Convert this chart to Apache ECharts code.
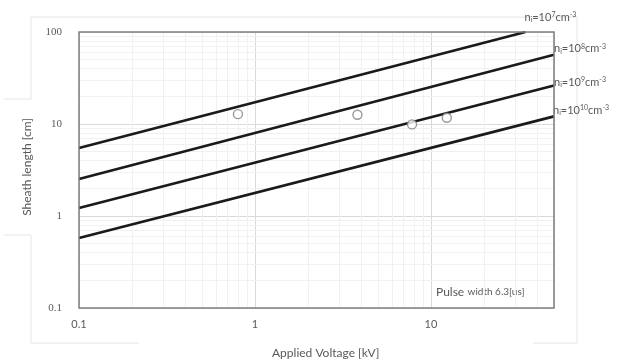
<!DOCTYPE html>
<html>
<head>
<meta charset="utf-8">
<script src="https://cdn.jsdelivr.net/npm/echarts@6/dist/echarts.min.js"></script>
<style>html,body{margin:0;padding:0;background:#fff}#c{width:621px;height:363px}</style>
</head>
<body>
<div id="c"></div>
<script>
// ---- data ----
var lineNames = ['7', '8', '9', '10'];            // n_i = 10^x cm^-3
var line7  = [[0.1, 5.5],  [34.4, 100]];
var line8  = [[0.1, 2.52], [50, 56.5]];
var line9  = [[0.1, 1.22], [50, 26.2]];
var line10 = [[0.1, 0.577],[50, 12.1]];
var measured = [[0.80, 12.8], [3.82, 12.6], [7.8, 9.9], [12.3, 11.7]];
var xMajor = [0.1, 1, 10];
var yMajor = [0.1, 1, 10, 100];
var xMinor = [0.2,0.3,0.4,0.5,0.6,0.7,0.8,0.9,2,3,4,5,6,7,8,9,20,30,40];
var yMinor = [0.2,0.3,0.4,0.5,0.6,0.7,0.8,0.9,2,3,4,5,6,7,8,9,20,30,40,50,60,70,80,90];

var txt = '#595959';
var font = 'Lato';
var rich = {
  n:  {fontSize: 11, color: txt, fontFamily: font},
  sub:{fontSize: 7, color: txt, fontFamily: font, verticalAlign: 'bottom', padding:[4,0,0,0]},
  sup:{fontSize: 7, color: txt, fontFamily: font, verticalAlign: 'top', padding:[0,0,5,0]}
};
function lab(p) { return '{n|n}{sub|i}{n|=10}{sup|' + p + '}{n|cm}{sup|-3}'; }
var offsets = [[-4,-15],[-3,-6],[-3,-3],[-4,-6]];
var lines = [line7, line8, line9, line10];

var series = lines.map(function (d, i) {
  return {
    type: 'line', data: d, symbol: 'none', silent: true, z: 4,
    lineStyle: {color: '#1a1a1a', width: 2.6},
    endLabel: {show: true, formatter: lab(lineNames[i]), rich: rich, offset: offsets[i], distance: 3}
  };
});
series.push({
  type: 'scatter', data: measured, symbol: 'circle', symbolSize: 9, z: 6,
  itemStyle: {color: '#ffffff', borderColor: '#808080', borderWidth: 1.4}
});
var ml = [];
xMinor.forEach(function (v) { ml.push({xAxis: v}); });
yMinor.forEach(function (v) { ml.push({yAxis: v}); });
series.push({
  type: 'line', data: [], silent: true, z: 0,
  markLine: {silent: true, z: 0, symbol: 'none', label: {show: false},
    lineStyle: {color: '#f1f1f1', width: 1, type: 'solid'}, data: ml, animation: false}
});

var chart = echarts.init(document.getElementById('c'), null, {renderer: 'canvas'});
chart.setOption({
  animation: false,
  grid: {left: 79, right: 67, top: 32, bottom: 55, show: true, borderColor: '#7f7f7f', borderWidth: 1.5, z: 8},
  xAxis: {
    type: 'log', logBase: 10, min: 0.1, max: 50,
    axisLine: {show: false}, axisTick: {show: false},
    splitLine: {show: true, lineStyle: {color: '#d9d9d9', width: 1}},
    axisLabel: {color: txt, fontFamily: font, fontSize: 11, margin: 11, showMaxLabel: false,
      formatter: function (v) { return xMajor.indexOf(+v) >= 0 ? String(+v) : ''; }}
  },
  yAxis: {
    type: 'log', logBase: 10, min: 0.1, max: 100,
    axisLine: {show: false}, axisTick: {show: false},
    splitLine: {show: true, lineStyle: {color: '#d9d9d9', width: 1}},
    axisLabel: {color: txt, fontFamily: 'Liberation Serif', fontSize: 11, margin: 17,
      formatter: function (v) { return yMajor.indexOf(+v) >= 0 ? String(+v) : ''; }}
  },
  series: series,
  graphic: [
    {type: 'polyline', shape: {points: [[4,99],[31,99],[31,17],[577,17],[577,343],[533,343]]}, style: {stroke: '#e6e6e6', fill: null, lineWidth: 1}, silent: true, z: -10},
    {type: 'polyline', shape: {points: [[4,235],[31,235],[31,343],[139,343]]}, style: {stroke: '#e6e6e6', fill: null, lineWidth: 1}, silent: true, z: -10},
    {type: 'text', left: 272, top: 347, style: {text: 'Applied Voltage [kV]', fill: txt, font: '12px Lato'}},
    {type: 'text', x: 27, y: 167, rotation: Math.PI / 2, style: {text: 'Sheath length [cm]', fill: txt, font: '12px Lato', align: 'center', verticalAlign: 'middle'}},
    {type: 'text', x: 436, y: 292, style: {text: '{a|Pulse} {b|width 6.3[us]}', fill: txt, verticalAlign: 'middle',
      rich: {a: {fontSize: 12, fontFamily: font, color: txt}, b: {fontSize: 10, fontFamily: font, color: txt}}}}
  ]
});
</script>
</body>
</html>
